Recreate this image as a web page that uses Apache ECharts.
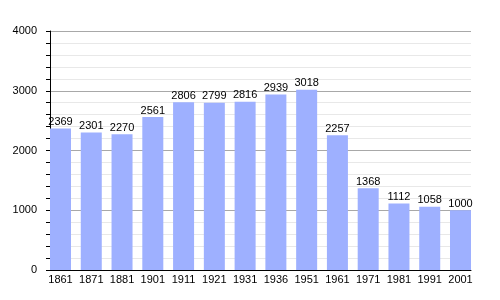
<!DOCTYPE html>
<html><head><meta charset="utf-8">
<script src="https://cdn.jsdelivr.net/npm/echarts@6/dist/echarts.min.js"></script>
<style>html,body{margin:0;padding:0;background:#fff}#c{width:500px;height:300px}</style>
</head><body><div id="c"></div>
<script>
const years = ['1861','1871','1881','1901','1911','1921','1931','1936','1951','1961','1971','1981','1991','2001'];
const population = [2369,2301,2270,2561,2806,2799,2816,2939,3018,2257,1368,1112,1058,1000];
const yTicks = [0,1000,2000,3000,4000];

const font = 'Liberation Sans, Arial, sans-serif';
const chart = echarts.init(document.getElementById('c'), null, {renderer:'canvas'});
chart.setOption({
  animation:false,
  backgroundColor:'#fff',
  grid:[
    {left:50, right:29, top:31, bottom:30},
    {left:60.5, right:39.5, top:31, bottom:30}
  ],
  xAxis:[
    {gridIndex:0, type:'value', min:0, max:1, show:true,
     axisLine:{show:true, lineStyle:{color:'#000', width:1}}, axisTick:{show:false},
     axisLabel:{show:false}, splitLine:{show:false}},
    {gridIndex:1, type:'category', data:years, boundaryGap:false,
     axisLine:{show:false}, axisTick:{show:false},
     axisLabel:{color:'#000', fontSize:11, fontFamily:font, margin:4, interval:0},
     splitLine:{show:false}}
  ],
  yAxis:[
    {gridIndex:0, type:'value', min:yTicks[0], max:yTicks[yTicks.length-1], interval:1000,
     axisLine:{show:true, lineStyle:{color:'#000', width:1}},
     axisTick:{show:true, inside:false, length:4, lineStyle:{color:'#000'}},
     minorTick:{show:true, splitNumber:5, length:4, lineStyle:{color:'#000'}},
     axisLabel:{color:'#000', fontSize:11, fontFamily:font, margin:13, formatter:v=>String(v)},
     splitLine:{show:true, lineStyle:{color:'#a8a8a8', width:1}},
     minorSplitLine:{show:true, lineStyle:{color:'#e8e8e8', width:1}}},
    {gridIndex:1, type:'value', min:0, max:4000, show:false, splitLine:{show:false}}
  ],
  series:[{
    type:'bar', xAxisIndex:1, yAxisIndex:1, data:population, barWidth:21,
    itemStyle:{color:'#9eb0ff'},
    label:{show:true, position:'top', distance:1, color:'#000', fontSize:11, fontFamily:font}
  }]
});
</script></body></html>
